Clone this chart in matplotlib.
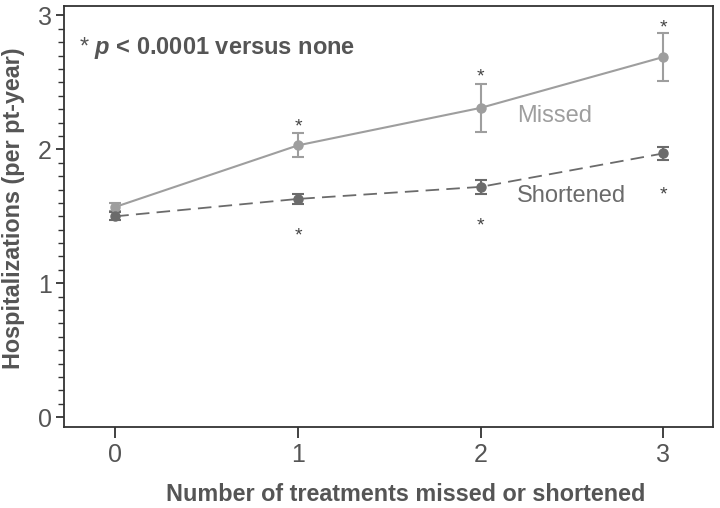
import matplotlib
matplotlib.use("Agg")
import matplotlib.pyplot as plt
from matplotlib.ticker import MultipleLocator
from matplotlib import font_manager

plt.rcParams['font.family'] = ['Liberation Sans', 'DejaVu Sans']
plt.rcParams['mathtext.fontset'] = 'custom'
plt.rcParams['mathtext.rm'] = 'Liberation Sans'
plt.rcParams['mathtext.it'] = 'Liberation Sans:bold:italic'

# narrow face for tick labels if present
mevcut = {f.name for f in font_manager.fontManager.ttflist}
dar_font = 'Liberation Sans Narrow' if 'Liberation Sans Narrow' in mevcut else 'Liberation Sans'

# data
tedavi = [0, 1, 2, 3]
missed = [1.57, 2.03, 2.31, 2.69]
missed_err = [0.03, 0.09, 0.18, 0.18]
shortened = [1.50, 1.63, 1.72, 1.97]
shortened_err = [0.03, 0.04, 0.055, 0.05]
# where the significance stars go
missed_yildiz_x = [1, 2, 3]
missed_yildiz_y = [2.17, 2.54, 2.91]
short_yildiz_x = [1, 2, 3]
short_yildiz_y = [1.35, 1.43, 1.66]

yazi_rengi = '#555555'
acik_gri = '#9e9e9e'
koyu_gri = '#6b6b6b'

fig = plt.figure(figsize=(7.2, 5.08), dpi=100)
ax = fig.add_axes([0.089, 0.159, 0.901, 0.829])

ax.errorbar(tedavi, missed, yerr=missed_err, color=acik_gri, lw=1.5,
            marker='o', ms=6.5, capsize=4, elinewidth=1.5, capthick=1.5)
ax.errorbar(tedavi, shortened, yerr=shortened_err, color=koyu_gri, lw=1.3,
            ls=(0, (7.5, 4)), marker='o', ms=6.5, capsize=4, elinewidth=1.5,
            capthick=1.5)

for x, y in zip(missed_yildiz_x, missed_yildiz_y):
    ax.text(x, y, '*', ha='center', va='center', fontsize=14, color='#444444')
for x, y in zip(short_yildiz_x, short_yildiz_y):
    ax.text(x, y, '*', ha='center', va='center', fontsize=14, color='#444444')

ax.text(2.2, 2.25, 'Missed', fontsize=17, color=acik_gri, va='center')
ax.text(2.2, 1.65, 'Shortened', fontsize=17, color=koyu_gri, va='center')

ax.text(-0.2, 2.755, r'$\mathrm{*}$ $p$ < 0.0001 versus none', fontsize=17,
        color=yazi_rengi, va='center', fontweight='bold')

ax.set_xlim(-0.28, 3.27)
ax.set_ylim(-0.075, 3.07)
ax.set_xticks(tedavi)
ax.set_yticks([0, 1, 2, 3])
ax.yaxis.set_minor_locator(MultipleLocator(0.1))

ax.tick_params(axis='x', length=8, width=1.3, colors='#333333',
               labelcolor=yazi_rengi, labelsize=18, pad=3)
ax.tick_params(axis='y', which='major', length=6, width=1.3, colors='#333333',
               labelcolor=yazi_rengi, labelsize=18, pad=3)
ax.tick_params(axis='y', which='minor', length=4, width=1, colors='#333333')
for lbl in ax.get_xticklabels() + ax.get_yticklabels():
    lbl.set_fontfamily(dar_font)

for s in ax.spines.values():
    s.set_color('#333333')
    s.set_linewidth(1.3)

ax.set_xlabel('Number of treatments missed or shortened', fontsize=16.8,
              fontweight='bold', color=yazi_rengi, va='center')
ax.set_ylabel('Hospitalizations (per pt-year)', fontsize=16.8,
              fontweight='bold', color=yazi_rengi, va='center')
ax.xaxis.set_label_coords(0.526, -0.159)
ax.yaxis.set_label_coords(-0.078, 0.52)

fig.savefig('out.png', dpi=100)
